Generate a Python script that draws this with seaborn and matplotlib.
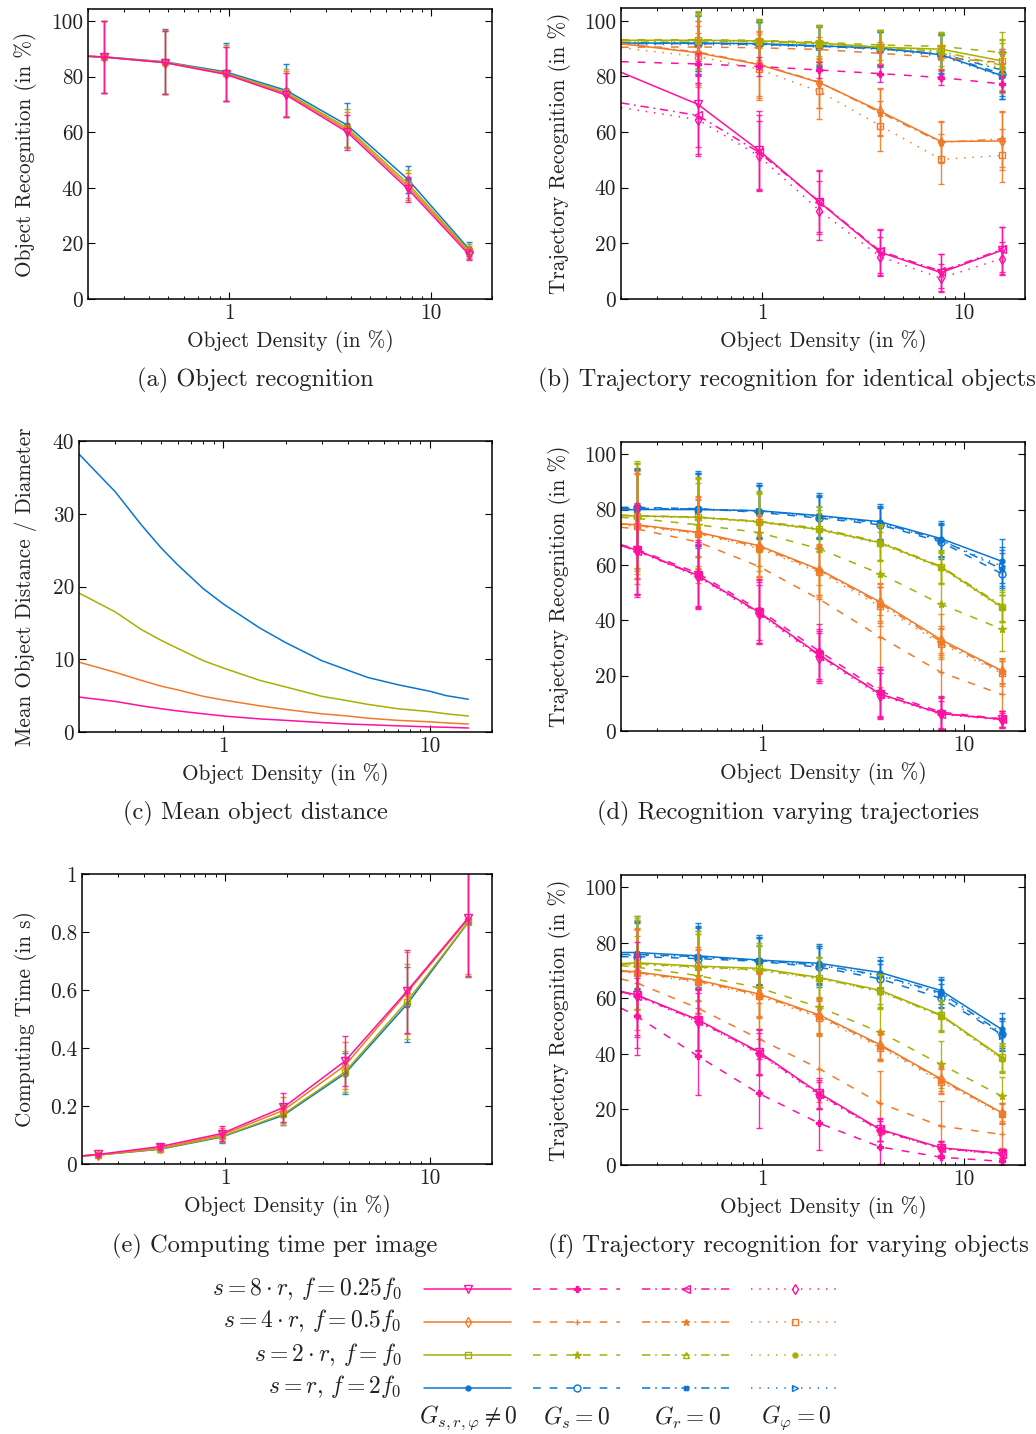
import matplotlib
matplotlib.use("Agg")
import numpy as np
import pandas as pd
import seaborn as sns
import matplotlib.pyplot as plt
from matplotlib.lines import Line2D
from matplotlib.ticker import FuncFormatter, NullFormatter, LogLocator, FixedLocator

# ---------------------------------------------------------------- data
EDGE = 0.2                                            # curves start at the left axis edge
DENSITY = [0.24, 0.48, 0.96, 1.92, 3.84, 7.68, 15.36]  # measured densities (in %)
DENSITY_B = [0.48, 0.96, 1.92, 3.84, 7.68, 15.36]      # panel (b) has no 0.24 point

# (a) object recognition, first value at the axis edge
A_PINK = [87.3, 87.0, 85.0, 80.8, 73.3, 60.0, 39.5, 16.0]
A_ORANGE = [87.3, 87.0, 85.0, 81.0, 73.8, 60.8, 40.5, 16.8]
A_OLIVE = [87.3, 87.0, 85.2, 81.3, 74.3, 61.5, 41.5, 17.3]
A_BLUE = [87.3, 87.1, 85.3, 81.7, 75.0, 62.5, 43.0, 18.0]
A_PINK_ERR = [13.0, 11.3, 9.7, 8.0, 6.3, 4.5, 2.0]
A_ORANGE_ERR = [13.0, 11.3, 9.8, 8.2, 6.5, 4.8, 2.3]
A_OLIVE_ERR = [13.0, 11.5, 10.0, 8.5, 7.0, 5.0, 2.5]
A_BLUE_ERR = [13.0, 11.7, 10.5, 9.5, 8.0, 5.0, 2.6]

# (b) trajectory recognition, identical objects: [solid, Gs=0, Gr=0, Gphi=0]
B_PINK = [[81.5, 70.0, 53.5, 34.8, 16.8, 9.5, 17.5],
          [85.3, 84.5, 83.6, 82.3, 81.0, 79.6, 77.3],
          [70.5, 66.0, 52.8, 35.0, 17.2, 10.0, 17.8],
          [68.8, 64.5, 51.5, 31.8, 15.2, 7.5, 14.5]]
B_ORANGE = [[91.8, 88.5, 84.3, 77.8, 67.5, 56.6, 56.8],
            [90.5, 90.6, 90.3, 89.7, 88.3, 86.8, 85.0],
            [91.8, 88.8, 84.5, 78.0, 67.0, 56.3, 57.5],
            [90.3, 87.2, 82.6, 74.6, 62.3, 50.2, 51.6]]
B_OLIVE = [[93.0, 93.0, 92.8, 92.0, 90.5, 89.8, 85.6],
           [93.2, 93.2, 93.0, 92.3, 91.3, 90.8, 88.6],
           [92.8, 92.8, 92.5, 91.8, 90.5, 89.0, 84.0],
           [92.5, 92.6, 92.3, 91.6, 90.3, 88.5, 83.0]]
B_BLUE = [[92.0, 92.0, 91.8, 91.0, 90.2, 87.8, 80.3],
          [91.8, 91.8, 91.5, 90.8, 90.0, 87.8, 81.0],
          [92.0, 92.0, 91.6, 91.0, 90.0, 88.2, 82.3],
          [91.5, 91.5, 91.2, 90.6, 89.8, 87.3, 80.0]]
B_PINK_ERR = [[15.5, 14, 11.5, 8, 6.5, 8.5], [4, 3.5, 3, 3, 2.8, 3],
              [14, 13.5, 11, 8, 6, 8], [13, 12.5, 10.5, 7, 5, 6]]
B_ORANGE_ERR = [[11.5, 12, 9, 8.5, 7.5, 10.5], [5, 5, 4.5, 4, 4, 5],
                [11, 11.5, 9.5, 8.5, 7.5, 10], [11, 11, 10, 9, 9, 9.5]]
B_OLIVE_ERR = [[10.5, 8, 6.5, 6.3, 6, 8], [9, 7, 6, 5.5, 5, 7.5],
               [10, 8, 6.5, 6, 6.5, 9], [9.5, 7.5, 6, 6, 6.5, 9]]
B_BLUE_ERR = [[11, 8.5, 7.5, 6.5, 7.5, 8.5], [10, 8, 7, 6, 7, 8],
              [10, 8, 7, 6, 7, 7.5], [10.5, 8.5, 7.5, 6.5, 7.5, 8]]

# (c) mean object distance / diameter
C_X = [0.2, 0.3, 0.4, 0.5, 0.6, 0.8, 1.0, 1.5, 2.0, 3.0, 4.0, 5.0, 7.0, 10.0, 12.0, 15.36]
C_PINK = [4.8, 4.2, 3.6, 3.2, 2.9, 2.5, 2.2, 1.8, 1.6, 1.3, 1.1, 1.0, 0.85, 0.7, 0.65, 0.55]
C_ORANGE = [9.6, 8.2, 7.1, 6.3, 5.8, 4.9, 4.4, 3.6, 3.1, 2.5, 2.2, 1.9, 1.6, 1.4, 1.25, 1.1]
C_OLIVE = [19.1, 16.5, 14.1, 12.6, 11.5, 9.8, 8.8, 7.1, 6.2, 4.9, 4.3, 3.8, 3.2, 2.8, 2.5, 2.2]
C_BLUE = [38.2, 33.0, 28.5, 25.3, 23.0, 19.7, 17.6, 14.3, 12.3, 9.8, 8.5, 7.5, 6.5, 5.6, 5.0, 4.5]

# (d) recognition varying trajectories
D_PINK = [[67.1, 65.3, 56.2, 43.0, 27.5, 13.3, 6.3, 4.2],
          [67.3, 65.6, 57.0, 43.8, 28.8, 14.3, 6.8, 4.4],
          [67.0, 65.2, 56.0, 42.8, 27.2, 13.4, 6.3, 4.3],
          [66.8, 65.0, 55.7, 42.3, 26.5, 12.8, 6.0, 4.0]]
D_ORANGE = [[74.8, 74.5, 71.8, 67.0, 58.3, 46.6, 33.0, 21.8],
            [73.6, 73.0, 68.3, 59.5, 47.6, 34.0, 21.2, 13.2],
            [74.8, 74.3, 71.6, 66.5, 58.0, 46.0, 32.3, 21.5],
            [74.5, 74.0, 71.2, 66.0, 57.3, 45.0, 31.5, 20.8]]
D_OLIVE = [[77.8, 77.7, 77.2, 75.6, 72.8, 68.0, 59.2, 44.8],
           [77.2, 76.8, 74.5, 71.7, 65.8, 56.8, 45.8, 36.8],
           [78.0, 77.8, 77.3, 75.8, 73.2, 68.3, 59.5, 45.3],
           [77.8, 77.5, 77.0, 75.3, 72.5, 67.6, 58.8, 44.3]]
D_BLUE = [[79.8, 80.0, 80.0, 79.6, 77.8, 75.6, 69.5, 61.3],
          [80.8, 80.8, 80.3, 79.0, 76.9, 74.5, 68.3, 56.8],
          [80.3, 80.4, 80.2, 79.5, 77.6, 75.2, 69.0, 58.5],
          [80.0, 80.2, 80.0, 79.3, 77.3, 75.0, 68.8, 59.5]]
D_PINK_ERR = [[17, 12, 11.5, 9.5, 9, 6, 3], [16, 12, 11, 10, 9, 6, 3],
              [16, 11.5, 11, 9, 8.5, 5.5, 3], [15.5, 11, 10.5, 9, 8, 5, 2.5]]
D_ORANGE_ERR = [[19.5, 13, 11, 9, 7, 5, 4.5], [20, 15, 18, 20, 18, 21, 12],
                [19, 13, 11, 9, 7, 5, 4.5], [19, 12.5, 10.5, 9, 7, 5.5, 4.5]]
D_OLIVE_ERR = [[20, 14.5, 11, 8, 6.5, 6, 5.5], [20, 15, 14, 13, 15, 19, 8],
               [19, 14, 10.5, 8, 6.5, 6, 5.5], [19, 14, 10.5, 7.5, 6, 5.5, 5]]
D_BLUE_ERR = [[15, 14, 10, 8, 6.5, 6.3, 8], [14, 13, 9.5, 7.5, 6, 6, 7.5],
              [14, 13, 9.5, 7.5, 6, 6, 7], [14, 13, 9.5, 7.5, 6, 6, 7]]

# (e) computing time per image (in s)
E_PINK = [0.028, 0.033, 0.060, 0.105, 0.195, 0.355, 0.595, 0.850]
E_ORANGE = [0.028, 0.032, 0.055, 0.100, 0.185, 0.340, 0.590, 0.845]
E_OLIVE = [0.028, 0.031, 0.052, 0.095, 0.172, 0.318, 0.560, 0.835]
E_BLUE = [0.028, 0.031, 0.051, 0.093, 0.168, 0.312, 0.550, 0.835]
E_PINK_ERR = [0.006, 0.009, 0.026, 0.05, 0.087, 0.144, 0.2]
E_ORANGE_ERR = [0.006, 0.009, 0.024, 0.045, 0.08, 0.14, 0.19]
E_OLIVE_ERR = [0.005, 0.008, 0.02, 0.036, 0.07, 0.13, 0.19]
E_BLUE_ERR = [0.005, 0.008, 0.02, 0.035, 0.07, 0.13, 0.19]

# (f) trajectory recognition for varying objects
F_PINK = [[62.5, 61.2, 52.3, 40.8, 25.8, 12.8, 6.2, 4.2],
          [56.5, 53.5, 39.2, 25.8, 15.0, 6.5, 2.8, 1.3],
          [62.3, 61.0, 52.0, 40.5, 25.5, 12.5, 6.0, 4.0],
          [62.0, 60.8, 51.6, 40.0, 25.0, 12.2, 5.8, 3.8]]
F_ORANGE = [[70.0, 69.5, 66.6, 61.6, 54.0, 43.3, 31.0, 18.8],
            [67.0, 65.5, 56.5, 45.5, 34.6, 22.2, 14.0, 11.0],
            [69.8, 69.3, 66.2, 61.3, 53.6, 43.0, 30.6, 18.8],
            [69.5, 69.0, 65.8, 60.8, 53.0, 42.3, 30.0, 18.3]]
F_OLIVE = [[72.5, 72.8, 71.6, 70.8, 67.5, 62.9, 54.0, 38.8],
           [71.8, 71.2, 68.2, 63.8, 56.8, 47.8, 36.2, 24.8],
           [72.3, 72.5, 71.3, 70.3, 67.3, 62.5, 53.8, 38.5],
           [72.0, 72.2, 71.0, 70.0, 67.0, 62.3, 53.5, 38.0]]
F_BLUE = [[76.5, 76.5, 75.3, 73.8, 72.6, 69.3, 62.8, 48.8],
          [75.0, 75.0, 74.3, 73.3, 71.2, 67.0, 60.0, 47.0],
          [75.8, 75.8, 75.0, 73.6, 72.0, 68.3, 62.0, 47.5],
          [75.5, 75.5, 74.8, 73.4, 71.8, 68.0, 61.5, 46.5]]
F_PINK_ERR = [[19, 11, 8, 5.5, 4, 2.5, 1.5], [14, 14, 12.5, 9.5, 6, 3, 1.3],
              [15, 11, 8, 5, 4, 2.5, 1.5], [14, 10.5, 7.5, 5, 3.5, 2.5, 1.5]]
F_ORANGE_ERR = [[16, 12, 8, 6.5, 5, 4.5, 3.5], [17, 15, 13, 12, 11.5, 9, 5],
                [15.5, 11.5, 8, 6.5, 5, 4.5, 3.5], [15.5, 11.5, 8, 6, 5, 4.5, 3.5]]
F_OLIVE_ERR = [[17, 12.5, 9, 7.5, 6, 5.5, 5], [17, 16, 15, 10, 10, 8.5, 7],
               [16.5, 12, 9, 7.5, 6, 5.5, 5], [16, 12, 9, 7.5, 6, 5.5, 5]]
F_BLUE_ERR = [[13, 12, 9, 7, 5.5, 5, 6], [12, 11, 8.5, 7, 5.5, 5, 5.5],
              [12, 11, 8.5, 7, 5.5, 5, 5.5], [12, 11, 8.5, 7, 5.5, 5, 5.5]]

ROW_LABELS = [r"$s = 8\cdot r,\, f = 0.25f_0$", r"$s = 4\cdot r,\, f = 0.5f_0$",
              r"$s = 2\cdot r,\, f = f_0$", r"$s = r,\, f = 2f_0$"]
COL_LABELS = [r"$G_{s,r,\varphi} \neq 0$", r"$G_s = 0$", r"$G_r = 0$", r"$G_\varphi = 0$"]
CAPTIONS = ["(a) Object recognition", "(b) Trajectory recognition for identical objects",
            "(c) Mean object distance", "(d) Recognition varying trajectories",
            "(e) Computing time per image", "(f) Trajectory recognition for varying objects"]

# ---------------------------------------------------------------- style
PINK, ORANGE, OLIVE, BLUE = "#ff10a0", "#f07a28", "#a6b000", "#0a76d2"
COLORS = [PINK, ORANGE, OLIVE, BLUE]
DASHES = ["-", (0, (5.5, 6.5)), (0, (6, 3.5, 1.2, 3.5)), (0, (1.0, 5.0))]
MARKERS = [["v", "P", "<", "d"], ["d", "+", "*", "s"], ["s", "*", "^", "o"], ["o", "o", "X", ">"]]
FILLED = [[False, True, False, False], [False, True, True, False],
          [False, True, False, True], [True, False, True, False]]
MSIZE = [[5.5, 4, 5.5, 5], [5, 5, 5, 5], [5, 5.5, 5, 3.5], [3.5, 5, 3.5, 5]]

sns.set_theme(style="ticks")
plt.rcParams.update({
    "font.family": ["cmr10", "DejaVu Serif"],
    "mathtext.fontset": "cm",
    "axes.unicode_minus": False,
    "axes.formatter.use_mathtext": True,
    "axes.edgecolor": "black",
    "axes.linewidth": 1.0,
    "axes.labelcolor": "#222222",
    "xtick.color": "black",
    "ytick.color": "black",
    "xtick.labelcolor": "#222222",
    "ytick.labelcolor": "#222222",
    "lines.scale_dashes": False,
    "font.size": 15.3,
})

FS = 15.3      # tick and axis labels
FS_CAP = 17.6  # captions
FS_LEG = 17.0  # legend texts
fig = plt.figure(figsize=(10.36, 14.34), dpi=100)
W, H = 1036.0, 1434.0


def add_ax(l, t, r, b, ylab_right):
    ax = fig.add_axes([l / W, 1 - b / H, (r - l) / W, (b - t) / H])
    ax._ylab_x = (ylab_right - l) / (r - l)
    return ax


ax_a = add_ax(88, 9, 492, 299, 37)
ax_b = add_ax(621, 8, 1025, 299, 571)
ax_c = add_ax(79, 441, 492, 732, 37)
ax_d = add_ax(621, 442, 1025, 731, 571)
ax_e = add_ax(82, 874, 492, 1164, 37)
ax_f = add_ax(621, 875, 1025, 1165, 571)

fmt = FuncFormatter(lambda v, _: f"{v:g}")
for ax in [ax_a, ax_b, ax_c, ax_d, ax_e, ax_f]:
    ax.set_xscale("log")
    ax.set_xlim(0.2, 20)
    ax.xaxis.set_major_locator(FixedLocator([1, 10]))
    ax.xaxis.set_minor_locator(LogLocator(base=10, subs=tuple(range(2, 10)), numticks=20))
    ax.xaxis.set_major_formatter(fmt)
    ax.xaxis.set_minor_formatter(NullFormatter())
    ax.yaxis.set_major_formatter(fmt)
    ax.tick_params(which="both", direction="in", top=True, right=True, labelsize=FS)
    ax.tick_params(which="major", length=5, width=0.8)
    ax.tick_params(which="minor", length=2.5, width=0.7)
    ax.set_xlabel("Object Density (in %)", fontsize=FS, labelpad=5)
    for s in ax.spines.values():
        s.set_linewidth(1.1)
        s.set_zorder(10)

for ax in [ax_a, ax_b, ax_d, ax_f]:
    ax.set_yticks([0, 20, 40, 60, 80, 100])
ax_a.set_ylim(0, 104.3)
ax_b.set_ylim(0, 104.6)
ax_d.set_ylim(0, 104.4)
ax_f.set_ylim(0, 104.4)
ax_c.set_ylim(0, 40)
ax_c.set_yticks([0, 10, 20, 30, 40])
ax_e.set_ylim(0, 1)
ax_e.set_yticks([0, 0.2, 0.4, 0.6, 0.8, 1.0])

ax_a.set_ylabel("Object Recognition (in %)", fontsize=FS)
for ax in [ax_b, ax_d, ax_f]:
    ax.set_ylabel("Trajectory Recognition (in %)", fontsize=FS)
ax_c.set_ylabel("Mean Object Distance / Diameter", fontsize=FS)
ax_e.set_ylabel("Computing Time (in s)", fontsize=FS)
for ax in [ax_a, ax_b, ax_c, ax_d, ax_e, ax_f]:
    ax.yaxis.set_label_coords(ax._ylab_x, 0.5)


def draw(ax, xmark, yline, err, ci, si, z):
    color = COLORS[ci]
    xline = [EDGE] + list(xmark)
    ax.errorbar(xmark, yline[1:], yerr=err, fmt="none", ecolor=color,
                elinewidth=1.0, capsize=2.0, capthick=1.0, alpha=0.9, zorder=z)
    sns.lineplot(x=xline, y=yline, ax=ax, color=color, linestyle=DASHES[si], linewidth=1.1,
                 estimator=None, sort=False, zorder=z + 0.5,
                 marker=MARKERS[ci][si], markevery=list(range(1, len(xline))),
                 markersize=MSIZE[ci][si], markeredgecolor=color,
                 markerfacecolor=color if FILLED[ci][si] else "none", markeredgewidth=1.0)


# draw order: blue, olive, orange, pink (pink on top)
order = [3, 2, 1, 0]
A = [A_PINK, A_ORANGE, A_OLIVE, A_BLUE]
A_ERR = [A_PINK_ERR, A_ORANGE_ERR, A_OLIVE_ERR, A_BLUE_ERR]
E = [E_PINK, E_ORANGE, E_OLIVE, E_BLUE]
E_ERR = [E_PINK_ERR, E_ORANGE_ERR, E_OLIVE_ERR, E_BLUE_ERR]
C = [C_PINK, C_ORANGE, C_OLIVE, C_BLUE]
B = [B_PINK, B_ORANGE, B_OLIVE, B_BLUE]
B_ERR = [B_PINK_ERR, B_ORANGE_ERR, B_OLIVE_ERR, B_BLUE_ERR]
D = [D_PINK, D_ORANGE, D_OLIVE, D_BLUE]
D_ERR = [D_PINK_ERR, D_ORANGE_ERR, D_OLIVE_ERR, D_BLUE_ERR]
Fv = [F_PINK, F_ORANGE, F_OLIVE, F_BLUE]
F_ERR = [F_PINK_ERR, F_ORANGE_ERR, F_OLIVE_ERR, F_BLUE_ERR]

for k, ci in enumerate(order):
    z = 2 + 2 * k
    draw(ax_a, DENSITY, A[ci], A_ERR[ci], ci, 0, z)
    draw(ax_e, DENSITY, E[ci], E_ERR[ci], ci, 0, z)
    sns.lineplot(x=C_X, y=C[ci], ax=ax_c, color=COLORS[ci], linewidth=1.1,
                 estimator=None, sort=False, zorder=z)
    for si in [3, 2, 1, 0]:
        draw(ax_b, DENSITY_B, B[ci][si], B_ERR[ci][si], ci, si, z)
        draw(ax_d, DENSITY, D[ci][si], D_ERR[ci][si], ci, si, z)
        draw(ax_f, DENSITY, Fv[ci][si], F_ERR[ci][si], ci, si, z)

# captions
for txt, (cx, cy) in zip(CAPTIONS, [(255, 380), (787, 380), (255, 813), (788, 813),
                                    (275, 1246), (788, 1246)]):
    fig.text(cx / W, 1 - cy / H, txt, ha="center", va="center", fontsize=FS_CAP, color="#222222")

# legend: 4 rows (colours) x 4 columns (variants); labels drawn separately
handles = []
for si in range(4):
    for ci in range(4):
        handles.append(Line2D([], [], color=COLORS[ci], linestyle=DASHES[si], linewidth=1.1,
                              marker=MARKERS[ci][si], markersize=MSIZE[ci][si],
                              markeredgecolor=COLORS[ci], markeredgewidth=1.0,
                              markerfacecolor=COLORS[ci] if FILLED[ci][si] else "none"))
leg = fig.legend(handles, [""] * 16, ncol=4, loc="upper right",
                 bbox_to_anchor=(838 / W, 1 - 1280 / H), frameon=False, markerfirst=False,
                 handlelength=4.64, handletextpad=1.17, columnspacing=0.0, borderpad=0,
                 borderaxespad=0, handleheight=1.6, labelspacing=0.475, numpoints=1,
                 fontsize=13.5)

ROW_Y = [1288, 1321, 1354, 1387]
for txt, cy in zip(ROW_LABELS, ROW_Y):
    fig.text(402 / W, 1 - cy / H, txt, ha="right", va="center", fontsize=FS_LEG, color="#222222")
for txt, cx in zip(COL_LABELS, [468, 577, 687, 796]):
    fig.text(cx / W, 1 - 1418 / H, txt, ha="center", va="center", fontsize=FS_LEG, color="#222222")

fig.savefig("out.png", dpi=100)
